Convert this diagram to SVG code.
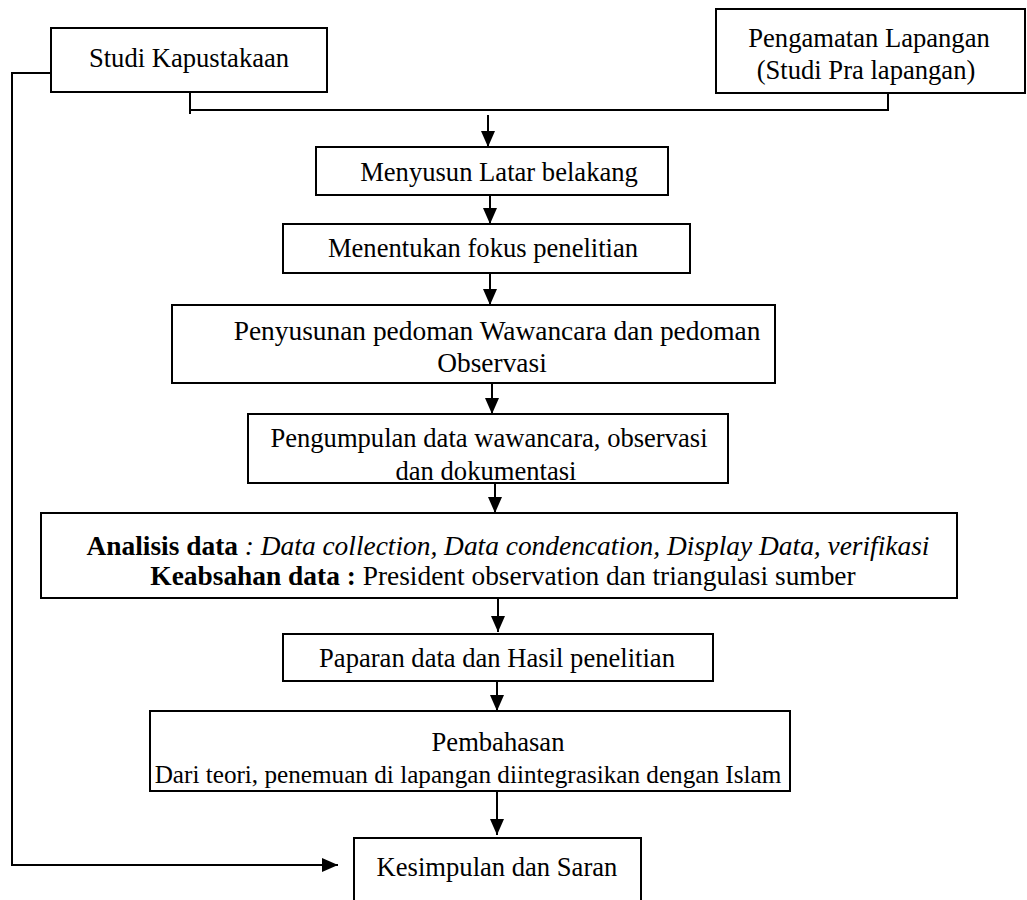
<svg xmlns="http://www.w3.org/2000/svg" width="1027" height="900" viewBox="0 0 1027 900">
<style>
.box{fill:#fff;stroke:#000;stroke-width:2}
.t{font-family:"Liberation Serif","Times New Roman",serif;font-size:26.6px;fill:#000}
.big{font-size:27.4px}
.sm{font-size:25.2px}
.c{fill:none;stroke:#000;stroke-width:2}
.b{font-weight:bold}
.i{font-style:italic}
</style>
<defs>
<marker id="ah2" markerWidth="16" markerHeight="14" refX="16" refY="7" orient="auto" markerUnits="userSpaceOnUse" viewBox="0 0 16 14">
<path d="M0,0 L16,7 L0,14 Z" fill="#000"/>
</marker>
</defs>
<g id="connectors">
<path class="c" d="M51,73 H12 V865 H338" marker-end="url(#ah2)"/>
<path class="c" d="M190,87 V114"/>
<path class="c" d="M190,110 H888 V88"/>
<path class="c" d="M488,115 V147" marker-end="url(#ah2)"/>
<path class="c" d="M490,195 V224" marker-end="url(#ah2)"/>
<path class="c" d="M490,273 V305" marker-end="url(#ah2)"/>
<path class="c" d="M492,383 V414" marker-end="url(#ah2)"/>
<path class="c" d="M495,483 V513" marker-end="url(#ah2)"/>
<path class="c" d="M498,598 V632" marker-end="url(#ah2)"/>
<path class="c" d="M497,681 V711" marker-end="url(#ah2)"/>
<path class="c" d="M497,791 V835" marker-end="url(#ah2)"/>
</g>
<g id="studi-kapustakaan">
<rect class="box" x="51" y="28" width="276" height="64"/>
<text class="t" x="189" y="67" text-anchor="middle">Studi Kapustakaan</text>
</g>
<g id="pengamatan-lapangan">
<rect class="box" x="716" y="9" width="309" height="84"/>
<text class="t" x="869" y="47" text-anchor="middle">Pengamatan Lapangan</text>
<text class="t" x="866" y="79" text-anchor="middle">(Studi Pra lapangan)</text>
</g>
<g id="latar-belakang">
<rect class="box" x="316" y="147" width="352" height="48"/>
<text class="t" x="499" y="181" text-anchor="middle">Menyusun Latar belakang</text>
</g>
<g id="fokus">
<rect class="box" x="283" y="224" width="407" height="49"/>
<text class="t" x="483" y="257" text-anchor="middle">Menentukan fokus penelitian</text>
</g>
<g id="pedoman">
<rect class="box" x="172" y="305" width="603" height="78"/>
<text class="t big" x="497" y="340" text-anchor="middle">Penyusunan pedoman Wawancara dan pedoman</text>
<text class="t big" x="492" y="372" text-anchor="middle">Observasi</text>
</g>
<g id="pengumpulan">
<rect class="box" x="248" y="414" width="480" height="69"/>
<text class="t" x="489" y="447" text-anchor="middle">Pengumpulan data wawancara, observasi</text>
<text class="t" x="486" y="480" text-anchor="middle">dan dokumentasi</text>
</g>
<g id="analisis">
<rect class="box" x="41" y="513" width="916" height="85"/>
<text class="t big" x="508" y="555" text-anchor="middle"><tspan class="b">Analisis data</tspan><tspan class="i"> : Data collection, Data condencation, Display Data, verifikasi</tspan></text>
<text class="t big" x="503" y="585" text-anchor="middle"><tspan class="b">Keabsahan data :</tspan> President observation dan triangulasi sumber</text>
</g>
<g id="paparan">
<rect class="box" x="283" y="634" width="430" height="47"/>
<text class="t" x="497" y="667" text-anchor="middle">Paparan data dan Hasil penelitian</text>
</g>
<g id="pembahasan">
<rect class="box" x="150" y="711" width="640" height="80"/>
<text class="t" x="498" y="751" text-anchor="middle">Pembahasan</text>
<text class="t sm" x="468" y="783" text-anchor="middle">Dari teori, penemuan di lapangan diintegrasikan dengan Islam</text>
</g>
<g id="kesimpulan">
<rect class="box" x="354" y="838" width="287" height="70"/>
<text class="t" x="497" y="876" text-anchor="middle">Kesimpulan dan Saran</text>
</g>
</svg>
